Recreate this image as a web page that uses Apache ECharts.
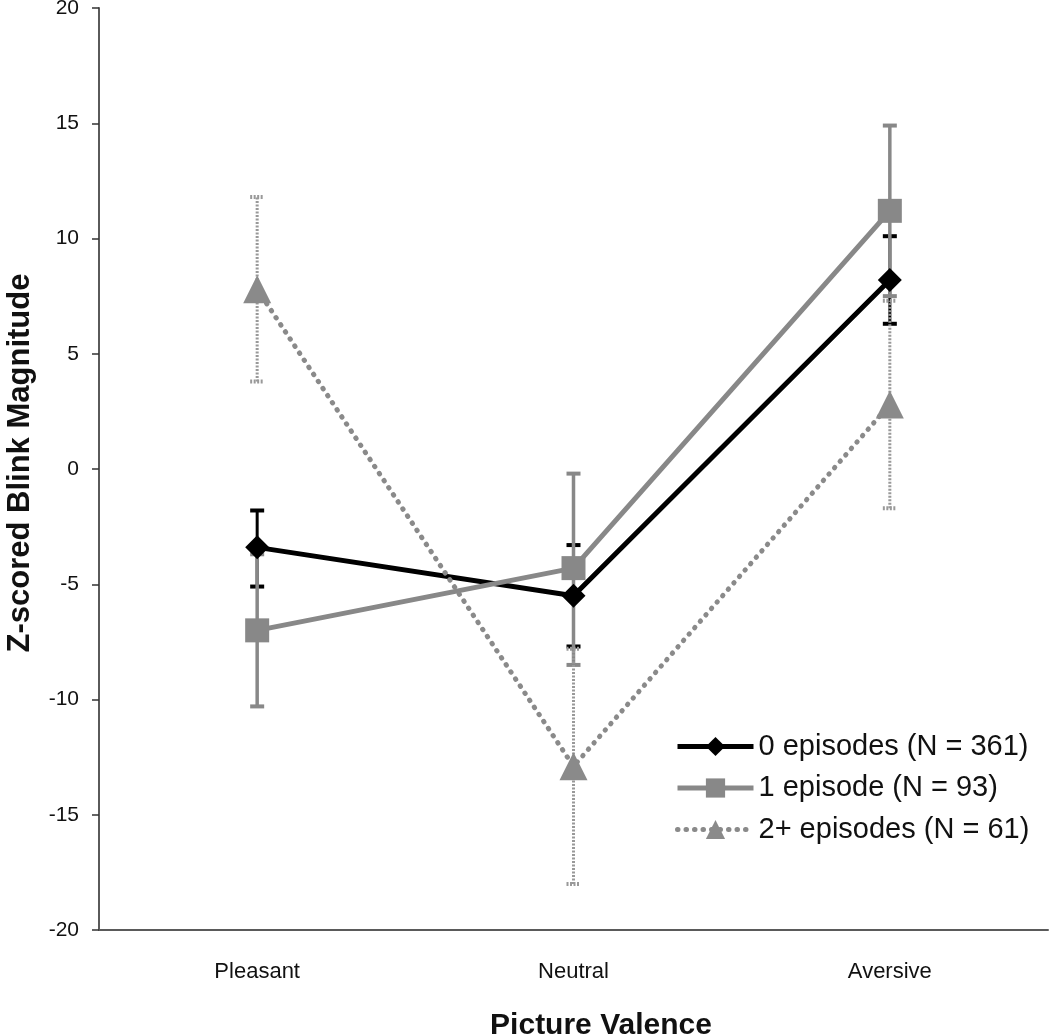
<!DOCTYPE html>
<html><head><meta charset="utf-8">
<script src="https://cdn.jsdelivr.net/npm/echarts@6/dist/echarts.min.js"></script>
<style>html,body{margin:0;padding:0;background:#fff}#c{width:1050px;height:1036px}</style>
</head><body><div id="c"></div>
<script>
const categories = ['Pleasant', 'Neutral', 'Aversive'];
const seriesNames = ['0 episodes (N = 361)', '1 episode (N = 93)', '2+ episodes (N = 61)'];
const mean0 = [-3.4, -5.5, 8.2];
const low0  = [-5.1, -7.7, 6.3];
const high0 = [-1.8, -3.3, 10.1];
const mean1 = [-7.0, -4.3, 11.2];
const low1  = [-10.3, -8.5, 7.5];
const high1 = [-3.7, -0.2, 14.9];
const mean2 = [7.8, -12.9, 2.8];
const low2  = [3.8, -18.0, -1.7];
const high2 = [11.8, -7.8, 7.3];
const yTicks = [-20, -15, -10, -5, 0, 5, 10, 15, 20];
const xTitle = 'Picture Valence';
const yTitle = 'Z-scored Blink Magnitude';

const FONT = 'Liberation Sans, Arial, sans-serif';

function errSeries(lows, highs, color, width, dash, z) {
  return {
    type: 'custom', z: z, silent: true,
    data: categories.map((c, i) => [i, lows[i], highs[i]]),
    encode: { x: 0, y: [1, 2] },
    renderItem: function (params, api) {
      const p1 = api.coord([api.value(0), api.value(1)]);
      const p2 = api.coord([api.value(0), api.value(2)]);
      const hw = 7;
      const st = { stroke: color, lineWidth: width, lineDash: dash };
      const cap = { stroke: color, lineWidth: 4, lineDash: dash };
      return { type: 'group', children: [
        { type: 'line', shape: { x1: p1[0], y1: p1[1], x2: p2[0], y2: p2[1] }, style: st },
        { type: 'line', shape: { x1: p1[0] - hw, y1: p1[1], x2: p1[0] + hw, y2: p1[1] }, style: cap },
        { type: 'line', shape: { x1: p2[0] - hw, y1: p2[1], x2: p2[0] + hw, y2: p2[1] }, style: cap }
      ]};
    }
  };
}

const chart = echarts.init(document.getElementById('c'), null, { renderer: 'canvas' });
chart.setOption({
  animation: false,
  backgroundColor: '#fff',
  grid: { left: 99, right: 2, top: 8, bottom: 106, containLabel: false, outerBoundsMode: 'none' },
  legend: {
    orient: 'vertical', left: 670, top: 726, itemGap: 10.5,
    itemWidth: 76, itemHeight: 24,
    lineStyle: { width: 5 },
    textStyle: { fontFamily: FONT, fontSize: 29, color: '#111', lineHeight: 31 },
    data: seriesNames
  },
  graphic: [
    { type: 'text', x: 601, y: 1026, silent: true,
      style: { text: xTitle, align: 'center', verticalAlign: 'middle', textAlign: 'center', textVerticalAlign: 'middle',
        fontFamily: FONT, fontSize: 30, fontWeight: 'bold', fill: '#111' } },
    { type: 'text', x: 20, y: 463, rotation: Math.PI / 2, silent: true,
      style: { text: yTitle, align: 'center', verticalAlign: 'middle', textAlign: 'center', textVerticalAlign: 'middle',
        fontFamily: FONT, fontSize: 31, fontWeight: 'bold', fill: '#111' } }
  ],
  xAxis: {
    type: 'category', data: categories, boundaryGap: true,
    axisLine: { onZero: false, lineStyle: { color: '#5a5a5a', width: 2 } },
    axisTick: { alignWithLabel: true, length: 15, lineStyle: { color: '#222', width: 1.5 } },
    axisLabel: { fontFamily: FONT, fontSize: 22, color: '#111', margin: 31 },
    splitLine: { show: false }
  },
  yAxis: {
    type: 'value', min: -20, max: 20, interval: 5,
    axisLine: { show: true, lineStyle: { color: '#5a5a5a', width: 2 } },
    axisTick: { show: true, length: 7, lineStyle: { color: '#333', width: 1.5 } },
    axisLabel: { fontFamily: FONT, fontSize: 21, color: '#111', margin: 20,
      formatter: v => yTicks.includes(v) ? String(v) : '' },
    splitLine: { show: false }
  },
  series: [
    errSeries(low0, high0, '#000', 3, null, 1),
    errSeries(low1, high1, '#888', 3.5, null, 2),
    errSeries(low2, high2, '#999', 3, [2, 1.5], 3),
    { name: seriesNames[0], type: 'line', z: 4, data: mean0,
      symbol: 'diamond', symbolSize: 24,
      lineStyle: { color: '#000', width: 5 }, itemStyle: { color: '#000' } },
    { name: seriesNames[1], type: 'line', z: 5, data: mean1,
      symbol: 'rect', symbolSize: 24,
      lineStyle: { color: '#888', width: 5 }, itemStyle: { color: '#888' } },
    { name: seriesNames[2], type: 'line', z: 6, data: mean2,
      symbol: 'triangle', symbolSize: 28,
      lineStyle: { color: '#8a8a8a', width: 5, type: [0.5, 8], cap: 'round' }, itemStyle: { color: '#8a8a8a' } }
  ]
});
</script></body></html>
